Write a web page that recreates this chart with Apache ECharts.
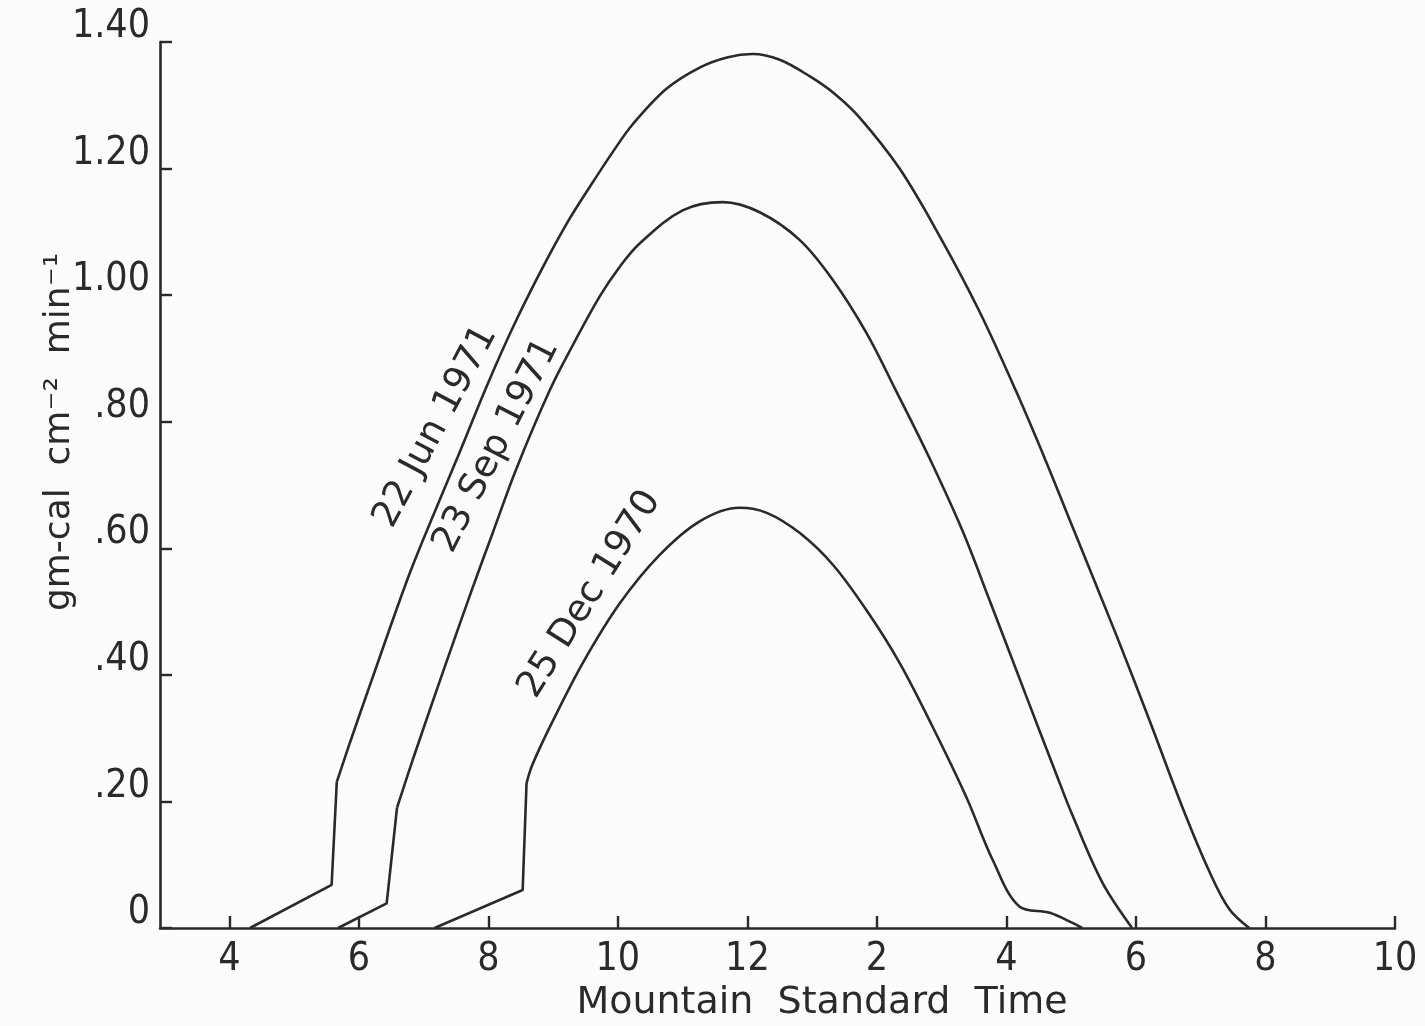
<!DOCTYPE html>
<html>
<head>
<meta charset="utf-8">
<title>Solar radiation, Mountain Standard Time</title>
<script src="https://cdn.jsdelivr.net/npm/echarts@6/dist/echarts.min.js"></script>
<style>
  html, body { margin: 0; padding: 0; background: #fcfcfc; }
  #chart { width: 1425px; height: 1026px; }
</style>
</head>
<body>
<div id="chart"></div>
<script>
// tick labels (hours past 12 restart at 1)
var xTickValues = [4, 6, 8, 10, 12, 14, 16, 18, 20, 22];
var xTickLabels = ['4', '6', '8', '10', '12', '2', '4', '6', '8', '10'];
var yTickLabels = ['0', '.20', '.40', '.60', '.80', '1.00', '1.20', '1.40'];

// [hour, gm-cal cm-2 min-1]; "ramp" = straight lead-in, "arc" = smooth part
var junRamp = [[4.32, 0], [5.58, 0.068], [5.66, 0.231]];
var junArc = [[5.66, 0.231], [5.86, 0.292], [6.20, 0.392], [6.74, 0.548], [7.10, 0.640],
  [7.53, 0.745], [7.97, 0.855], [8.36, 0.945], [8.79, 1.034], [9.21, 1.113], [9.56, 1.170],
  [9.92, 1.226], [10.23, 1.270], [10.75, 1.326], [11.27, 1.360], [11.70, 1.376], [12.08, 1.381],
  [12.50, 1.372], [12.96, 1.346], [13.35, 1.318], [13.73, 1.281], [14.35, 1.200], [14.97, 1.093],
  [15.58, 0.975], [16.15, 0.848], [16.60, 0.740], [17.02, 0.634], [17.70, 0.462], [18.21, 0.328],
  [18.72, 0.190], [19.13, 0.090], [19.44, 0.030], [19.75, 0]];

var sepRamp = [[5.68, 0], [6.43, 0.039], [6.59, 0.190]];
var sepArc = [[6.59, 0.190], [6.83, 0.265], [7.25, 0.390], [7.73, 0.530], [8.07, 0.625],
  [8.43, 0.725], [8.95, 0.850], [9.31, 0.922], [9.72, 0.998], [10.03, 1.045], [10.34, 1.082],
  [11.00, 1.134], [11.62, 1.147], [12.19, 1.131], [12.81, 1.087], [13.32, 1.024], [13.84, 0.940],
  [14.30, 0.848], [14.80, 0.745], [15.32, 0.628], [15.75, 0.515], [16.30, 0.368], [16.77, 0.243],
  [17.02, 0.178], [17.48, 0.072], [17.94, 0]];

var decRamp = [[7.17, 0], [8.53, 0.060], [8.59, 0.229]];
var decArc = [[8.59, 0.229], [8.68, 0.258], [8.99, 0.326], [9.46, 0.419], [10.03, 0.513],
  [10.65, 0.590], [11.27, 0.643], [11.88, 0.664], [12.30, 0.656], [12.81, 0.624], [13.32, 0.574],
  [13.84, 0.502], [14.35, 0.419], [14.86, 0.318], [15.38, 0.207], [15.79, 0.107], [16.20, 0.034],
  [16.67, 0.024], [17.02, 0.008], [17.17, 0]];

var ink = '#2a2a2a';
var letterFont = "'DejaVu Sans', sans-serif";
var digitFont = "'Liberation Sans Narrow', 'DejaVu Sans Condensed', 'Liberation Sans', sans-serif";

function ramp(data) {
  return {
    type: 'line', data: data, symbol: 'none', smooth: false, silent: true,
    lineStyle: { color: ink, width: 2.6 }
  };
}

function arc(data, name, at, angle) {
  return {
    type: 'line', data: data, symbol: 'none', smooth: 0.35, silent: true,
    lineStyle: { color: ink, width: 2.6 },
    markPoint: {
      symbol: 'circle', symbolSize: 0, silent: true,
      label: {
        show: true, formatter: name, rotate: angle, position: 'inside',
        color: ink, fontSize: 37, fontFamily: letterFont
      },
      data: [{ coord: at }]
    }
  };
}

var myChart = echarts.init(document.getElementById('chart'));
var option = {
  backgroundColor: '#fcfcfc',
  animation: false,
  grid: { left: 160, right: 30, top: 42, bottom: 98, containLabel: false },
  xAxis: {
    type: 'value', min: 2.93, max: 22,
    axisLine: { onZero: false, lineStyle: { color: ink, width: 2.6 } },
    axisTick: { inside: true, length: 12, customValues: xTickValues, lineStyle: { color: ink, width: 2.4 } },
    axisLabel: {
      customValues: xTickValues, margin: 12, color: ink, fontSize: 39, fontFamily: digitFont,
      formatter: function (v) { return xTickLabels[xTickValues.indexOf(v)]; }
    },
    splitLine: { show: false }
  },
  yAxis: {
    type: 'value', min: 0, max: 1.4, interval: 0.2,
    axisLine: { show: true, onZero: false, lineStyle: { color: ink, width: 2.6 } },
    axisTick: { show: true, inside: true, length: 12, lineStyle: { color: ink, width: 2.4 } },
    axisLabel: {
      margin: 10, color: ink, fontSize: 39, fontFamily: digitFont,
      verticalAlign: 'bottom', lineHeight: 30,
      formatter: function (v) { return yTickLabels[Math.round(v / 0.2)]; }
    },
    splitLine: { show: false }
  },
  graphic: [
    {
      type: 'text', x: 822, y: 1003, silent: true,
      style: {
        text: 'Mountain  Standard  Time', fill: ink, fontSize: 38, fontFamily: letterFont,
        align: 'center', verticalAlign: 'middle'
      }
    },
    {
      type: 'text', x: 60, y: 432, rotation: Math.PI / 2, silent: true,
      style: {
        text: 'gm-cal  cm\u207B\u00B2  min\u207B\u00B9', fill: ink, fontSize: 36, fontFamily: letterFont,
        align: 'center', verticalAlign: 'middle'
      }
    }
  ],
  series: [
    ramp(junRamp),
    arc(junArc, '22 Jun 1971', [7.19, 0.792], 62),
    ramp(sepRamp),
    arc(sepArc, '23 Sep 1971', [8.13, 0.762], 63),
    ramp(decRamp),
    arc(decArc, '25 Dec 1970', [9.57, 0.527], 58)
  ]
};
myChart.setOption(option);
</script>
</body>
</html>
